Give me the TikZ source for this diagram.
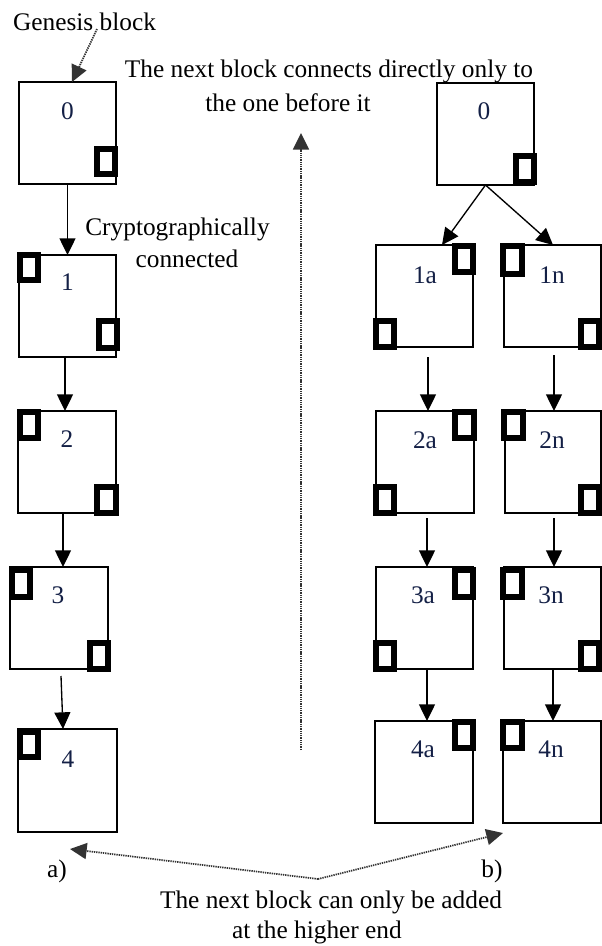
\documentclass[tikz,border=0pt]{standalone}
\usepackage{fontspec}
\setmainfont{Liberation Serif}
\usetikzlibrary{arrows.meta,calc}
\definecolor{numcol}{RGB}{20,32,70}
\newcommand{\myblk}[5]{\node[blk,minimum width={(#4-#2)*0.75pt},minimum height={(#5-#3)*0.75pt}] (#1) at ({(#2+#4)/2},{(#3+#5)/2}) {};}
\newcommand{\mysq}[5]{\node[hsq,minimum width={(#4-#2-6)*0.75pt},minimum height={(#5-#3-6)*0.75pt}] (#1) at ({(#2+#4)/2},{(#3+#5)/2}) {};}
\begin{document}
\begin{tikzpicture}[x=0.75pt,y=-0.75pt,
  blk/.style={draw=black,line width=1pt,fill=white,inner sep=0pt,outer sep=0pt,rectangle},
  hsq/.style={draw=black,line width=4.5pt,fill=white,inner sep=0pt,outer sep=0pt,rectangle},
  arr/.style={-{Triangle[width=12pt,length=12.5pt]},line width=1pt},
  darr/.style={-{Triangle[width=12pt,length=12.5pt]},line width=1.3pt,draw=black!80,dash pattern=on 1pt off 0.7pt},
  txt/.style={font=\fontsize{19}{23}\selectfont,inner sep=0pt,anchor=base},
  num/.style={txt,text=numcol}]
\useasboundingbox[fill=white] (0,0) rectangle (602,946);

% left chain blocks
\myblk{b0}{19}{82}{116}{184}
\myblk{b1}{19}{255}{116}{357}
\myblk{b2}{18}{411}{116}{513}
\myblk{b3}{10}{567}{108}{669}
\myblk{b4}{18}{729}{117}{832}
% right tree blocks
\myblk{r0}{437}{83}{534}{185}
\myblk{b1a}{376}{245}{473}{347}
\myblk{b1n}{504}{245}{601}{347}
\myblk{b2a}{376}{411}{474}{513}
\myblk{b2n}{505}{411}{601}{513}
\myblk{b3a}{376}{567}{473}{669}
\myblk{b3n}{504}{567}{601}{669}
\myblk{b4a}{375}{721}{473}{823}
\myblk{b4n}{503}{721}{601}{823}

% hash squares
\mysq{s0b}{94}{146}{118}{177}
\mysq{s1t}{17}{252}{41}{283}
\mysq{s1b}{96}{318}{120}{351}
\mysq{s2t}{17}{409}{41}{441}
\mysq{s2b}{94}{484}{119}{516}
\mysq{s3t}{9}{567}{33}{600}
\mysq{s3b}{87}{640}{111}{672}
\mysq{s4t}{17}{729}{41}{760}
\mysq{r0b}{513}{153}{537}{185}
\mysq{s1at}{452}{243}{476}{275}
\mysq{s1ab}{373}{318}{397}{350}
\mysq{s1nt}{500}{243}{525}{277}
\mysq{s1nb}{578}{318}{602}{350}
\mysq{s2at}{452}{409}{477}{441}
\mysq{s2ab}{373}{484}{397}{516}
\mysq{s2nt}{501}{409}{526}{441}
\mysq{s2nb}{578}{484}{602}{516}
\mysq{s3at}{452}{567}{476}{600}
\mysq{s3ab}{373}{640}{397}{672}
\mysq{s3nt}{500}{567}{525}{600}
\mysq{s3nb}{578}{640}{602}{672}
\mysq{s4at}{452}{719}{476}{751}
\mysq{s4nt}{500}{719}{525}{751}

% numbers
\node[num] (l0) at (67.5,119) {0};
\node[num] (l1) at (67.5,290) {1};
\node[num] (l2) at (67,447) {2};
\node[num] (l3) at (58,603) {3};
\node[num] (l4) at (68,767) {4};
\node[num] (lr0) at (484,119) {0};
\node[num] (l1a) at (425,283) {1a};
\node[num] (l1n) at (552,283) {1n};
\node[num] (l2a) at (425,448) {2a};
\node[num] (l2n) at (552,448) {2n};
\node[num] (l3a) at (423,603) {3a};
\node[num] (l3n) at (551,603) {3n};
\node[num] (l4a) at (423,757) {4a};
\node[num] (l4n) at (551,757) {4n};

% texts
\node[txt] (gen) at (84.5,30) {Genesis block};
\node[txt] (top1) at (329,77) {The next block connects directly only to};
\node[txt] (top2) at (288,111) {the one before it};
\node[txt] (cr1) at (177.5,235) {Cryptographically};
\node[txt] (cr2) at (187,267) {connected};
\node[txt] (la) at (57,877) {a)};
\node[txt] (lb) at (492,877) {b)};
\node[txt] (bot1) at (331,908) {The next block can only be added};
\node[txt] (bot2) at (317,938) {at the higher end};

% solid arrows, left chain
\draw[arr] (b0.south) -- (b1.north);
\draw[arr] ($(b1.south)+(-2.5,0)$) -- ($(b2.north)+(-2,0)$);
\draw[arr] ($(b2.south)+(-4,0)$) -- ($(b3.north)+(4,0)$);
\draw[arr] ($(b3.south)+(2,7)$) -- ($(b4.north)+(-4.5,0)$);
% solid arrows, tree
\draw[arr] (r0.south) -- ($(b1a.north)+(17.5,0)$);
\draw[arr] (r0.south) -- ($(b1n.north)+(0.5,0)$);
\draw[arr] ($(b1a.south)+(3.5,10)$) -- ($(b2a.north)+(3,0)$);
\draw[arr] ($(b1n.south)+(1.5,8)$) -- ($(b2n.north)+(1,0)$);
\draw[arr] ($(b2a.south)+(2,5)$) -- ($(b3a.north)+(2.5,0)$);
\draw[arr] ($(b2n.south)+(1,5)$) -- ($(b3n.north)+(1.5,0)$);
\draw[arr] ($(b3a.south)+(2.5,0)$) -- ($(b4a.north)+(3,0)$);
\draw[arr] ($(b3n.south)+(0.5,0)$) -- ($(b4n.north)+(1,0)$);

% dotted arrows
\coordinate (g0) at (97,29);
\draw[darr] (g0) -- ($(b0.north)+(4.5,0)$);
\coordinate (m0) at (301,750);
\coordinate (m1) at (301,133);
\draw[darr] (m0) -- (m1);
\coordinate (j) at (318,879);
\coordinate (aL) at (70,849);
\coordinate (aR) at (503,833);
\draw[darr] (j) -- (aL);
\draw[darr] (j) -- (aR);
\end{tikzpicture}
\end{document}
